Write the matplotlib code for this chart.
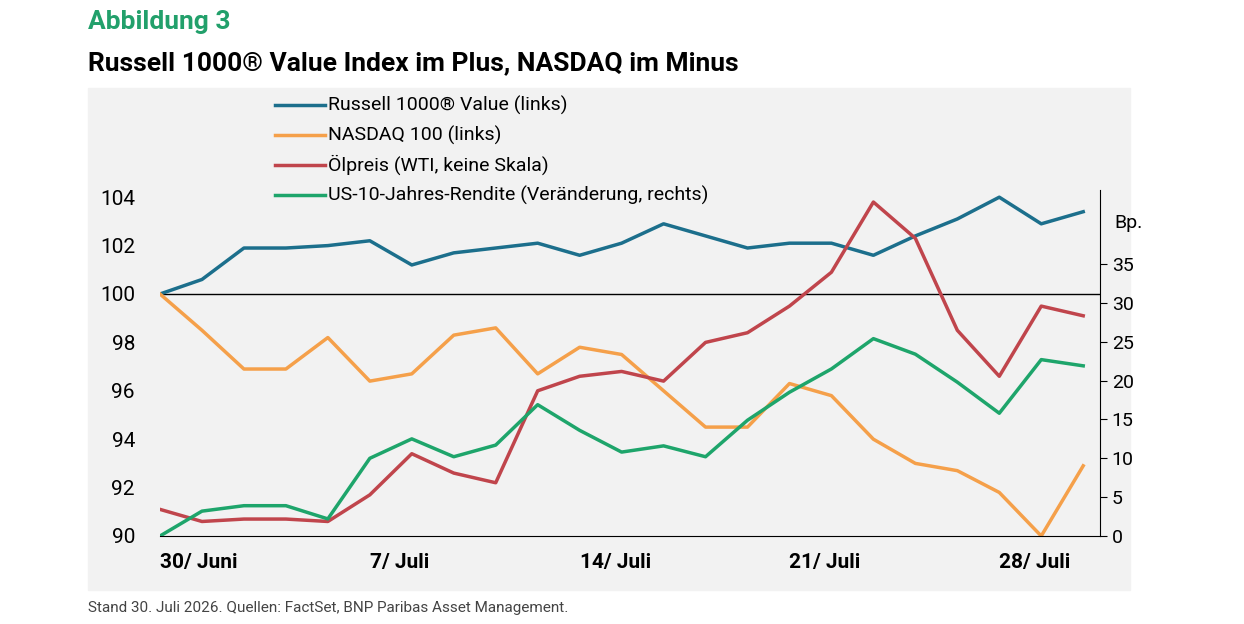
import matplotlib.pyplot as plt
from matplotlib.patches import Rectangle
from matplotlib.lines import Line2D

plt.rcParams['font.family'] = ['Roboto', 'DejaVu Sans']

tick_pos = [0, 5, 10, 15, 20]
tick_labels = ["30/ Juni", "7/ Juli", "14/ Juli", "21/ Juli", "28/ Juli"]

russell = [100.0, 100.6, 101.9, 101.9, 102.0, 102.2, 101.2, 101.7, 101.9, 102.1, 101.6, 102.1,
           102.9, 102.4, 101.9, 102.1, 102.1, 101.6, 102.4, 103.1, 104.0, 102.9, 103.4]
nasdaq = [100.0, 98.5, 96.9, 96.9, 98.2, 96.4, 96.7, 98.3, 98.6, 96.7, 97.8, 97.5,
          96.0, 94.5, 94.5, 96.3, 95.8, 94.0, 93.0, 92.7, 91.8, 90.0, 92.9]
oil = [91.1, 90.6, 90.7, 90.7, 90.6, 91.7, 93.4, 92.6, 92.2, 96.0, 96.6, 96.8,
       96.4, 98.0, 98.4, 99.5, 100.9, 103.8, 102.3, 98.5, 96.6, 99.5, 99.1]
us10 = [0, 3.2, 3.9, 3.9, 2.2, 10.0, 12.5, 10.2, 11.7, 16.9, 13.6, 10.8,
        11.6, 10.2, 14.9, 18.5, 21.5, 25.4, 23.4, 19.8, 15.8, 22.7, 21.9]

c_rus, c_nas, c_oil, c_us = "#1c6f8c", "#f5a04a", "#c0454c", "#1ea56b"
W, H = 1244, 624
fig = plt.figure(figsize=(12.44, 6.24), dpi=100)
fig.patches.append(Rectangle((88 / W, 1 - 590 / H), (1130 - 88) / W, (590 - 88) / H,
                             transform=fig.transFigure, color="#f2f2f2", zorder=-10))

ax = fig.add_axes([160 / W, 88 / H, 940 / W, 346 / H])
ax.patch.set_alpha(0)
x = range(len(russell))
ax.plot(x, russell, color=c_rus, lw=2.5)
ax.plot(x, nasdaq, color=c_nas, lw=2.5)
ax.plot(x, oil, color=c_oil, lw=2.5)
ax.axhline(100, color="black", lw=1, zorder=0)
ax.set_xlim(0, 22.4)
ax.set_ylim(90, 90 + 346 / 24.2)
ax.set_yticks(range(90, 105, 2))
ax.set_xticks(tick_pos)
ax.set_xticklabels(tick_labels, fontsize=15, fontweight="bold")
for l in ax.get_xticklabels():
    l.set_horizontalalignment("left")
ax.tick_params(axis="y", length=0, labelsize=15, pad=18)
ax.tick_params(axis="x", length=0, pad=12)
for s in ["left", "top", "right"]:
    ax.spines[s].set_visible(False)

ax2 = ax.twinx()
ax2.patch.set_alpha(0)
ax2.plot(x, us10, color=c_us, lw=2.5)
ax2.set_ylim(0, 346 / 7.77)
ax2.set_yticks(range(0, 40, 5))
ax2.tick_params(axis="y", labelsize=14, direction="out", length=5)
for s in ["left", "top", "bottom"]:
    ax2.spines[s].set_visible(False)
ax2.text(1.015, 0.89, "Bp.", transform=ax2.transAxes, fontsize=14)

labels = ["Russell 1000® Value (links)", "NASDAQ 100 (links)",
          "Ölpreis (WTI, keine Skala)", "US-10-Jahres-Rendite (Veränderung, rechts)"]
for i, (lab, c) in enumerate(zip(labels, [c_rus, c_nas, c_oil, c_us])):
    yy = 1 - (105 + i * 30) / H
    fig.add_artist(Line2D([275 / W, 325 / W], [yy, yy], color=c, lw=2.5))
    fig.text(328 / W, yy, lab, fontsize=14, va="center")

fig.text(88 / W, 1 - 22 / H, "Abbildung 3", fontsize=19, fontweight="bold", color="#22a06b", va="center")
fig.text(88 / W, 1 - 63 / H, "Russell 1000® Value Index im Plus, NASDAQ im Minus",
         fontsize=19, fontweight="bold", va="center")
fig.text(88 / W, 1 - 608 / H, "Stand 30. Juli 2026. Quellen: FactSet, BNP Paribas Asset Management.",
         fontsize=11, color="#444444", va="center")

fig.savefig("out.png", dpi=100)
